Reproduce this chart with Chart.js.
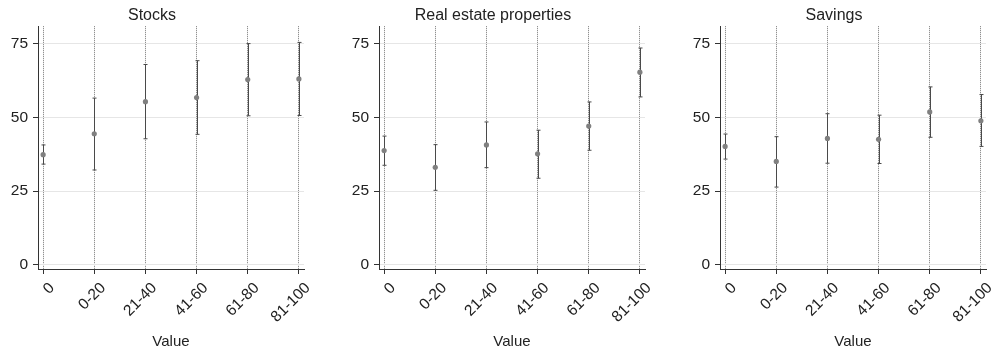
<!DOCTYPE html>
<html>
<head>
<meta charset="utf-8">
<script src="https://cdn.jsdelivr.net/npm/chart.js@4/dist/chart.umd.min.js"></script>
<style>
    html, body { margin: 0; padding: 0; background: #fff; overflow: hidden; }
    body { width: 994px; height: 353px; position: relative; }
    .panel { position: absolute; top: 0; width: 342px; height: 353px; }
</style>
</head>
<body>
<div class="panel" style="left: 0px;"><canvas id="stocksChart"></canvas></div>
<div class="panel" style="left: 341px;"><canvas id="realEstateChart"></canvas></div>
<div class="panel" style="left: 682px;"><canvas id="savingsChart"></canvas></div>
<script>
// Mean values with confidence intervals, per asset type

const categories = ['0', '0-20', '21-40', '41-60', '61-80', '81-100'];
const yTicks = [0, 25, 50, 75];

const stocksMean  = [37.4, 44.5, 55.4, 56.8, 62.9, 63.1];
const stocksLower = [34.2, 32.2, 42.8, 44.3, 50.6, 50.7];
const stocksUpper = [40.7, 56.6, 68.0, 69.3, 75.1, 75.5];

const realEstateMean  = [38.8, 33.1, 40.7, 37.7, 47.1, 65.4];
const realEstateLower = [33.8, 25.3, 33.0, 29.4, 38.9, 57.0];
const realEstateUpper = [43.7, 40.8, 48.5, 45.7, 55.3, 73.6];

const savingsMean  = [40.2, 35.1, 42.9, 42.6, 51.9, 48.9];
const savingsLower = [35.9, 26.4, 34.5, 34.4, 43.3, 40.2];
const savingsUpper = [44.4, 43.5, 51.3, 50.8, 60.4, 57.8];

const textColor = '#222';
const axisColor = '#333';
const fontFamily = '"Liberation Sans", Arial, Helvetica, sans-serif';

// Draws the vertical CI bars with small caps, under the points
const errorBarPlugin = {
    id: 'errorBars',
    beforeDatasetsDraw(chart) {
        const bars = chart.options.plugins.errorBars;
        const ctx = chart.ctx;
        const xs = chart.scales.x;
        const ys = chart.scales.y;
        ctx.save();
        ctx.strokeStyle = '#4a4a4a';
        ctx.lineWidth = 1;
        bars.lower.forEach((lo, i) => {
            const x = Math.round(xs.getPixelForValue(i)) + 0.5;
            const y1 = ys.getPixelForValue(lo);
            const y2 = ys.getPixelForValue(bars.upper[i]);
            ctx.beginPath();
            ctx.moveTo(x, y1);
            ctx.lineTo(x, y2);
            ctx.moveTo(x - 2, y1);
            ctx.lineTo(x + 2, y1);
            ctx.moveTo(x - 2, y2);
            ctx.lineTo(x + 2, y2);
            ctx.stroke();
        });
        ctx.restore();
    }
};

function makeChart(canvasId, title, mean, lower, upper) {
    const ctx = document.getElementById(canvasId).getContext('2d');
    return new Chart(ctx, {
        type: 'scatter',
        data: {
            datasets: [{
                data: mean.map((v, i) => ({ x: i, y: v })),
                backgroundColor: '#808080',
                borderColor: '#808080',
                pointRadius: 2.6,
                pointBorderWidth: 0
            }]
        },
        options: {
            responsive: true,
            maintainAspectRatio: false,
            animation: false,
            events: [],
            layout: { padding: { left: 0, right: 38, top: 0, bottom: 0 } },
            plugins: {
                legend: { display: false },
                tooltip: { enabled: false },
                title: {
                    display: true,
                    text: title,
                    color: textColor,
                    font: { family: fontFamily, size: 16, weight: 'normal' },
                    padding: { top: 6, bottom: 1 }
                },
                errorBars: { lower: lower, upper: upper }
            },
            scales: {
                x: {
                    type: 'linear',
                    min: -0.1,
                    max: 5.1,
                    afterBuildTicks: scale => {
                        scale.ticks = categories.map((c, i) => ({ value: i }));
                    },
                    afterFit: scale => { scale.height = 84; },
                    ticks: {
                        callback: value => categories[value],
                        minRotation: 45,
                        maxRotation: 45,
                        padding: 5,
                        labelOffset: 9,
                        color: textColor,
                        font: { family: fontFamily, size: 15.5 }
                    },
                    grid: {
                        color: '#777',
                        lineWidth: 1,
                        tickLength: 5,
                        tickColor: axisColor,
                        tickBorderDash: []
                    },
                    border: { display: true, color: axisColor, width: 1, dash: [1, 1] },
                    title: {
                        display: true,
                        text: 'Value',
                        color: textColor,
                        font: { family: fontFamily, size: 15 },
                        padding: { top: 0, bottom: 2 }
                    }
                },
                y: {
                    min: -1.4,
                    max: 81,
                    afterBuildTicks: scale => {
                        scale.ticks = yTicks.map(v => ({ value: v }));
                    },
                    afterFit: scale => { scale.width = 38; },
                    ticks: {
                        padding: 5,
                        color: textColor,
                        font: { family: fontFamily, size: 15.5 }
                    },
                    grid: {
                        color: '#e6e6e6',
                        lineWidth: 1,
                        tickLength: 5,
                        tickColor: axisColor
                    },
                    border: { display: true, color: axisColor, width: 1 }
                }
            }
        },
        plugins: [errorBarPlugin]
    });
}

makeChart('stocksChart', 'Stocks', stocksMean, stocksLower, stocksUpper);
makeChart('realEstateChart', 'Real estate properties', realEstateMean, realEstateLower, realEstateUpper);
makeChart('savingsChart', 'Savings', savingsMean, savingsLower, savingsUpper);
</script>
</body>
</html>
